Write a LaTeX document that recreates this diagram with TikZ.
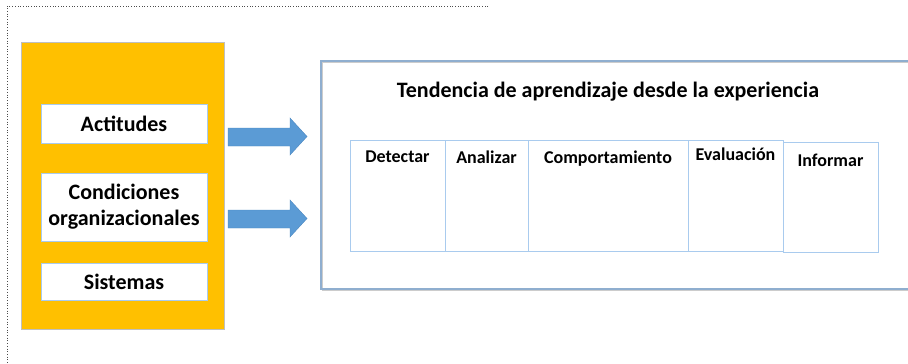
\documentclass[tikz,border=0pt]{standalone}
\usepackage{fontspec}
\setmainfont{Carlito}
\usetikzlibrary{positioning}

\definecolor{boxYellow}{HTML}{FFC000}
\definecolor{arrowBlue}{HTML}{5B9BD5}
\definecolor{arrowEdge}{HTML}{4A86C0}
\definecolor{cellEdge}{HTML}{A9CBEE}
\definecolor{frameEdge}{HTML}{8FAECF}

\newcommand{\cellTop}{140}
\newcommand{\cellBottom}{251}
\newcommand{\cellMid}{195.5}
\newcommand{\cellHeight}{111pt}

\tikzset{
  factorbox/.style={draw=cellEdge, line width=1pt, fill=white, minimum width=166pt,
    align=center, font=\bfseries\fontsize{22}{26}\selectfont, inner sep=0pt},
  cellbox/.style={draw=cellEdge, line width=1pt, minimum height=\cellHeight, inner sep=0pt},
  celltext/.style={font=\bfseries\fontsize{18}{21}\selectfont, inner sep=0pt},
  blockarrow/.style={fill=arrowBlue, draw=arrowEdge, line width=0.4pt}
}

\begin{document}
\begin{tikzpicture}[x=1pt, y=-1pt]
  \useasboundingbox (0,0) rectangle (908,364);

  % dotted frame (only top and left show)
  \draw[black!70, dotted, line width=0.7pt] (488,6) -- (7,6) -- (7,364);

  % left block
  \node[fill=boxYellow, draw=black!25, line width=0.5pt, minimum width=203pt, minimum height=287pt,
        inner sep=0pt] (factors) at (122.5,185.5) {};
  \node[factorbox, minimum height=39pt] (actitudes) at (124,123.5) {Actitudes};
  \node[factorbox, minimum height=68pt] (condiciones) at (124,207) {Condiciones\\organizacionales};
  \node[factorbox, minimum height=37pt] (sistemas) at (124,281.5) {Sistemas};

  % block arrows
  \fill[blockarrow] (228,128) -- (290,128) -- (290,118) -- (307,136.5) -- (290,155) -- (290,146) -- (228,146) -- cycle;
  \fill[blockarrow] (228,210) -- (290,210) -- (290,200) -- (307,218.5) -- (290,237) -- (290,228) -- (228,228) -- cycle;

  % right block (runs past the right edge)
  \draw[black!20, line width=1.2pt] (924,290) -- (322.5,290) -- (322.5,62) -- (924,62);
  \draw[frameEdge, line width=1.2pt] (920,289) -- (321,289) -- (321,61) -- (920,61);
  \node[font=\bfseries\fontsize{22}{26}\selectfont, inner sep=0pt] (title) at (608,92)
    {Tendencia de aprendizaje desde la experiencia};

  % stages
  \node[cellbox, minimum width=95pt] (detectar) at (397.5,\cellMid) {};
  \node[cellbox, minimum width=83pt] (analizar) at (486.5,\cellMid) {};
  \node[cellbox, minimum width=160pt] (comportamiento) at (608,\cellMid) {};
  \node[cellbox, minimum width=95pt] (evaluacion) at (735.5,\cellMid) {};
  \node[cellbox, minimum width=95pt, minimum height=110pt] (informar) at (830.5,197) {};

  \node[celltext, below=11pt of detectar.north] (tdetectar) {Detectar};
  \node[celltext, below=11pt of analizar.north] (tanalizar) {Analizar};
  \node[celltext, below=11pt of comportamiento.north] (tcomportamiento) {Comportamiento};
  \node[celltext, below=8pt of evaluacion.north] (tevaluacion) {Evaluación};
  \node[celltext, below=12pt of informar.north] (tinformar) {Informar};
\end{tikzpicture}
\end{document}
